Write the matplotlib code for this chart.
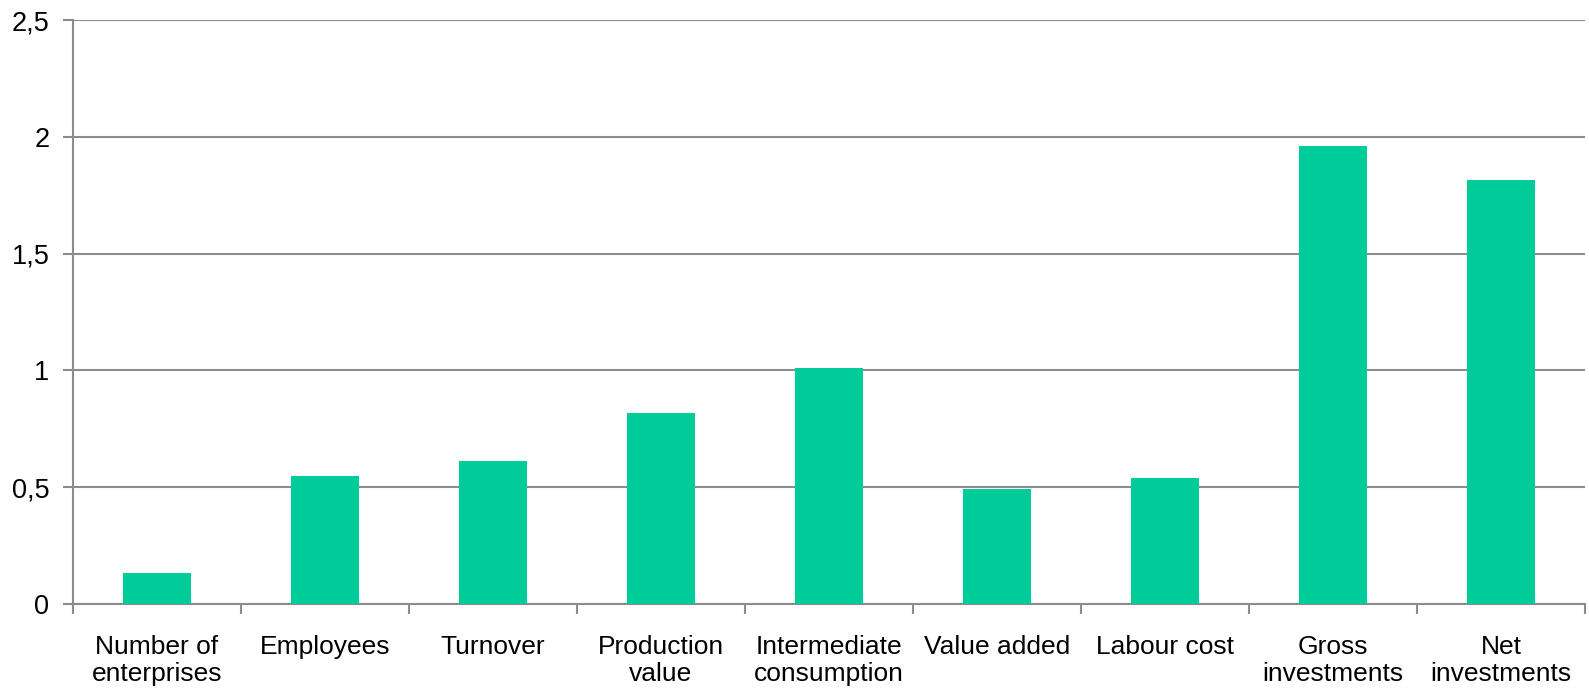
import matplotlib.pyplot as plt
import numpy as np

categories = ['Number of\nenterprises', 'Employees', 'Turnover', 'Production\nvalue',
              'Intermediate\nconsumption', 'Value added', 'Labour cost',
              'Gross\ninvestments', 'Net\ninvestments']
values = [0.134, 0.548, 0.613, 0.816, 1.010, 0.492, 0.540, 1.960, 1.813]
yticks = [0, 0.5, 1, 1.5, 2, 2.5]
ytick_labels = ['0', '0,5', '1', '1,5', '2', '2,5']

plt.rcParams['font.family'] = ['Liberation Sans', 'DejaVu Sans']
grey = '#8c8c8c'

fig = plt.figure(figsize=(15.89, 6.90), dpi=100)
ax = fig.add_axes([73 / 1589, 1 - 604 / 690, (1585 - 73) / 1589, 584 / 690])

x = np.arange(len(categories))
ax.bar(x, values, width=0.4, color='#00cc99', zorder=3)

ax.set_xlim(-0.5, len(categories) - 0.5)
ax.set_ylim(0, 2.5)
ax.set_yticks(yticks)
ax.set_yticklabels(ytick_labels, fontsize=19.5)
ax.yaxis.grid(True, color=grey, linewidth=1.5, zorder=0)

# category labels in the middle, tick marks on the boundaries
ax.set_xticks(x)
ax.set_xticklabels(categories, fontsize=19, linespacing=1.2)
ax.tick_params(axis='x', length=0, pad=22)
ax.set_xticks(np.arange(-0.5, len(categories)), minor=True)
ax.tick_params(axis='x', which='minor', length=7, width=1.5, color=grey)
ax.tick_params(axis='y', length=7, width=1.5, color=grey, pad=10)

for side in ['top', 'right']:
    ax.spines[side].set_visible(False)
for side in ['left', 'bottom']:
    ax.spines[side].set_color(grey)
    ax.spines[side].set_linewidth(1.5)

fig.savefig('out.png', dpi=100)
